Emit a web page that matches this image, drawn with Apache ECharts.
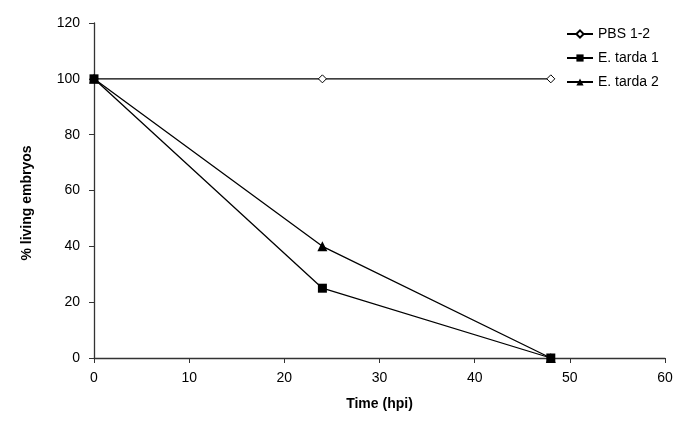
<!DOCTYPE html>
<html><head><meta charset="utf-8">
<script src="https://cdn.jsdelivr.net/npm/echarts@6/dist/echarts.min.js"></script>
<style>html,body{margin:0;padding:0;background:#fff}#c{width:685px;height:426px}</style>
</head><body><div id="c"></div>
<script>
const times = [0, 24, 48];
const pbs = [100, 100, 100];
const tarda1 = [100, 25, 0];
const tarda2 = [100, 40, 0];
const seriesNames = ['PBS 1-2', 'E. tarda 1', 'E. tarda 2'];
const xTitle = 'Time (hpi)';
const yTitle = '% living embryos';

const font = 'Liberation Sans, Arial, sans-serif';
const pair = (ys) => times.map((t, i) => [t, ys[i]]);
const chart = echarts.init(document.getElementById('c'));
const lineStyle = { color: '#000', width: 1.3 };
chart.setOption({
  animation: false,
  backgroundColor: '#fff',
  grid: { left: 94, right: 20, top: 23, bottom: 68 },
  graphic: [{
    type: 'text', x: 27, y: 203, rotation: Math.PI / 2,
    style: { text: yTitle, font: 'bold 14px ' + font, fill: '#000', align: 'center', verticalAlign: 'middle' }
  }],
  legend: {
    orient: 'vertical', left: 561, top: 22, itemGap: 10, itemWidth: 26, itemHeight: 9,
    textStyle: { fontFamily: font, fontSize: 14, color: '#000' },
    data: seriesNames
  },
  xAxis: {
    type: 'value', min: 0, max: 60, interval: 10,
    name: xTitle, nameLocation: 'middle', nameGap: 39,
    nameTextStyle: { fontFamily: font, fontSize: 14, fontWeight: 'bold', color: '#000' },
    axisLine: { lineStyle: { color: '#333', width: 1.3 } },
    axisTick: { lineStyle: { color: '#333' }, length: 5 },
    axisLabel: { fontFamily: font, fontSize: 14, color: '#000', margin: 13 },
    splitLine: { show: false }
  },
  yAxis: {
    type: 'value', min: 0, max: 120, interval: 20,
    axisLine: { show: true, lineStyle: { color: '#333', width: 1.3 } },
    axisTick: { show: true, lineStyle: { color: '#333' }, length: 5 },
    axisLabel: { fontFamily: font, fontSize: 14, color: '#000', margin: 14 },
    splitLine: { show: false }
  },
  series: [
    { name: seriesNames[0], type: 'line', data: pair(pbs), symbol: 'diamond', symbolSize: 8,
      itemStyle: { color: '#fff', borderColor: '#000', borderWidth: 1 }, lineStyle, z: 3 },
    { name: seriesNames[1], type: 'line', data: pair(tarda1), symbol: 'rect', symbolSize: 9,
      itemStyle: { color: '#000' }, lineStyle, z: 4 },
    { name: seriesNames[2], type: 'line', data: pair(tarda2), symbol: 'triangle', symbolSize: 10,
      itemStyle: { color: '#000' }, lineStyle, z: 4 }
  ]
});
</script></body></html>
